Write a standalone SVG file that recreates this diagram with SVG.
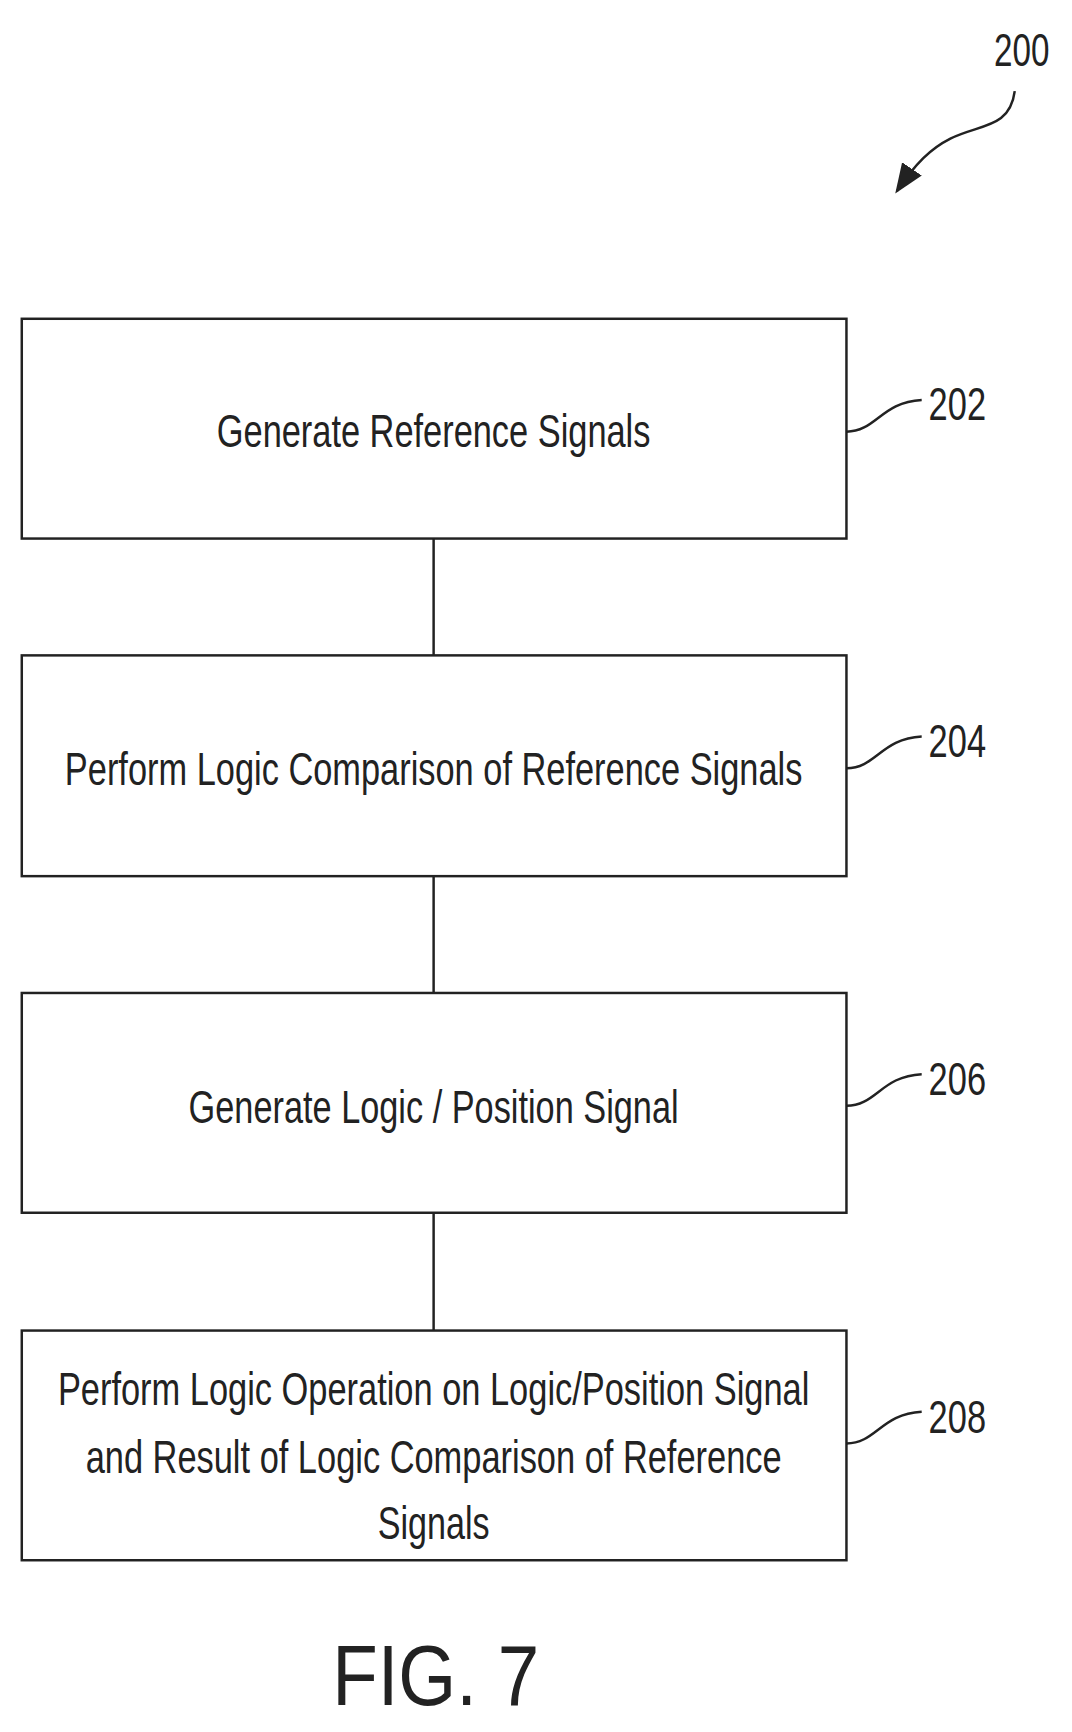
<svg xmlns="http://www.w3.org/2000/svg" width="1072" height="1732" viewBox="0 0 1072 1732">
<style>
.b{fill:#fff;stroke:#222;stroke-width:2.5}
.t{font-family:"Liberation Sans",Arial,sans-serif;font-size:46px;fill:#222;text-anchor:middle}
.n{font-family:"Liberation Sans",Arial,sans-serif;font-size:46px;fill:#222}
.l{fill:none;stroke:#222;stroke-width:2.5}
</style>
<defs><marker id="a" viewBox="0 0 10 10" refX="9" refY="5" markerWidth="12" markerHeight="12" orient="auto"><path d="M0,1 L10,5 L0,9 z" fill="#222"/></marker></defs>
<rect width="1072" height="1732" fill="#fff"/>
<g transform="scale(0.99)">
<g id="connectors">
<line class="l" x1="438" y1="544" x2="438" y2="662"/>
<line class="l" x1="438" y1="885" x2="438" y2="1003"/>
<line class="l" x1="438" y1="1225" x2="438" y2="1344"/>
</g>
<g id="n202"><rect class="b" x="22" y="322" width="833" height="222"/><text class="t" x="438" y="452" textLength="438" lengthAdjust="spacingAndGlyphs">Generate Reference Signals</text>
<path class="l" d="M855,436 C885,436 890,406 931,404"/><text class="n" x="938" y="424" textLength="58" lengthAdjust="spacingAndGlyphs">202</text></g>
<g id="n204"><rect class="b" x="22" y="662" width="833" height="223"/><text class="t" x="438" y="793" textLength="745" lengthAdjust="spacingAndGlyphs">Perform Logic Comparison of Reference Signals</text>
<path class="l" d="M855,776 C885,776 890,746 931,744"/><text class="n" x="938" y="765" textLength="58" lengthAdjust="spacingAndGlyphs">204</text></g>
<g id="n206"><rect class="b" x="22" y="1003" width="833" height="222"/><text class="t" x="438" y="1134" textLength="495" lengthAdjust="spacingAndGlyphs">Generate Logic / Position Signal</text>
<path class="l" d="M855,1117 C885,1117 890,1087 931,1085"/><text class="n" x="938" y="1106" textLength="58" lengthAdjust="spacingAndGlyphs">206</text></g>
<g id="n208"><rect class="b" x="22" y="1344" width="833" height="232"/>
<text class="t" x="438" y="1419" textLength="759" lengthAdjust="spacingAndGlyphs">Perform Logic Operation on Logic/Position Signal</text>
<text class="t" x="438" y="1488" textLength="703" lengthAdjust="spacingAndGlyphs">and Result of Logic Comparison of Reference</text>
<text class="t" x="438" y="1555" textLength="113" lengthAdjust="spacingAndGlyphs">Signals</text>
<path class="l" d="M855,1458 C885,1458 890,1428 931,1426"/><text class="n" x="938" y="1447" textLength="58" lengthAdjust="spacingAndGlyphs">208</text></g>
<g id="ref200"><text class="n" x="1004" y="67" textLength="56" lengthAdjust="spacingAndGlyphs">200</text>
<path class="l" d="M1025,92 C1020,130 990,125 960,140 C940,150 925,165 906,193" marker-end="url(#a)"/></g>
<text id="fig" x="440" y="1722" font-family="Liberation Sans,Arial,sans-serif" font-size="86" fill="#222" text-anchor="middle" textLength="209" lengthAdjust="spacingAndGlyphs">FIG. 7</text>
</g>
</svg>
